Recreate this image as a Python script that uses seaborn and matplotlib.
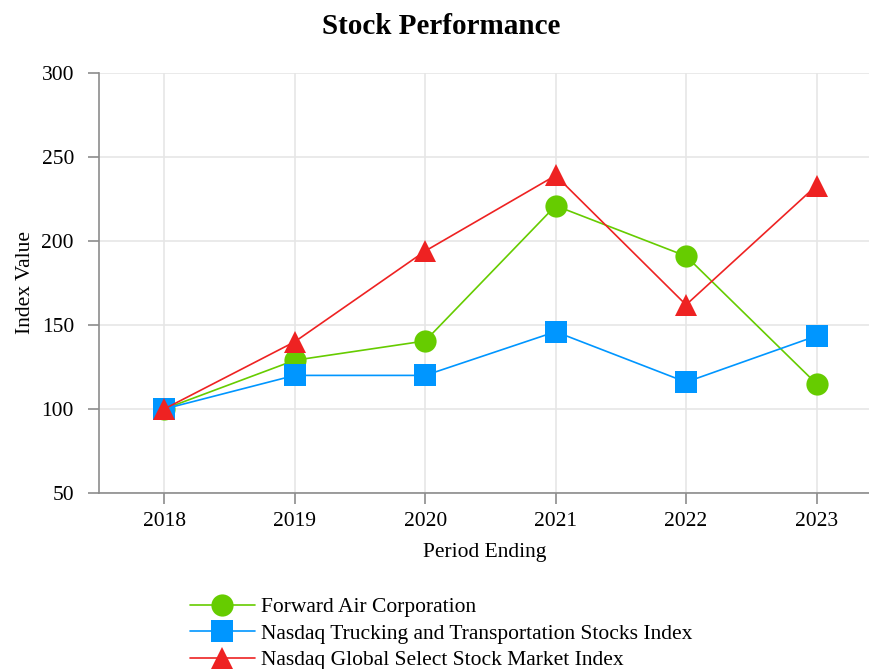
import numpy as np
import pandas as pd
import matplotlib
matplotlib.use("Agg")
import matplotlib.pyplot as plt
import seaborn as sns

years = [2018, 2019, 2020, 2021, 2022, 2023]
forward_air = [100, 129, 140.5, 221, 191, 115]
nasdaq_trucking = [100, 120, 120, 146, 116, 143.5]
nasdaq_global = [100, 140, 194, 239, 162, 233]

names = ["Forward Air Corporation",
         "Nasdaq Trucking and Transportation Stocks Index",
         "Nasdaq Global Select Stock Market Index"]
colors = ["#66cc00", "#0096ff", "#ee2222"]
markers = ["o", "s", "^"]
series = [forward_air, nasdaq_trucking, nasdaq_global]

sns.set_style("white")
plt.rcParams['font.family'] = ['Liberation Serif', 'DejaVu Serif']
plt.rcParams['text.color'] = 'black'
plt.rcParams['axes.labelcolor'] = 'black'
plt.rcParams['xtick.color'] = 'black'
plt.rcParams['ytick.color'] = 'black'

fig = plt.figure(figsize=(8.7, 6.69), dpi=100)
ax = fig.add_axes([99 / 870, 1 - 493 / 669, 1 - 99 / 870, (493 - 73) / 669])

for name, vals, c, m in zip(names, series, colors, markers):
    df = pd.DataFrame({"year": years, "value": vals})
    sns.lineplot(data=df, x="year", y="value", ax=ax, color=c, marker=m,
                 markersize=16, markeredgewidth=0, linewidth=1.2, label=name)

ax.set_xlim(2017.5, 2023.41)
ax.set_ylim(50, 300)
ax.set_xticks(years)
ax.set_yticks([50, 100, 150, 200, 250, 300])
ax.grid(True, color="#e6e6e6", linewidth=1.2)
ax.set_axisbelow(True)
for s in ["top", "right"]:
    ax.spines[s].set_visible(False)
for s in ["left", "bottom"]:
    ax.spines[s].set_color("#8c8c8c")
    ax.spines[s].set_linewidth(1.2)
ax.tick_params(axis="both", direction="out", length=8, width=1.2,
               color="#8c8c8c", labelcolor="black", labelsize=15.5, pad=6,
               left=True, bottom=True)
ax.tick_params(axis="y", pad=10)
ax.set_xlabel("Period Ending", fontsize=15.5, labelpad=8)
ax.set_ylabel("Index Value", fontsize=15.5, labelpad=5)

fig.text(0.507, 1 - 26 / 669, "Stock Performance", ha="center", va="center",
         fontsize=21, fontweight="bold")

leg = ax.legend(loc="upper left", bbox_to_anchor=(190 / 870, 1 - 597 / 669),
                bbox_transform=fig.transFigure, frameon=False, fontsize=15.5,
                handlelength=3.0, handletextpad=0.3, labelspacing=0.3,
                borderpad=0, borderaxespad=0)

fig.savefig("out.png", dpi=100)
